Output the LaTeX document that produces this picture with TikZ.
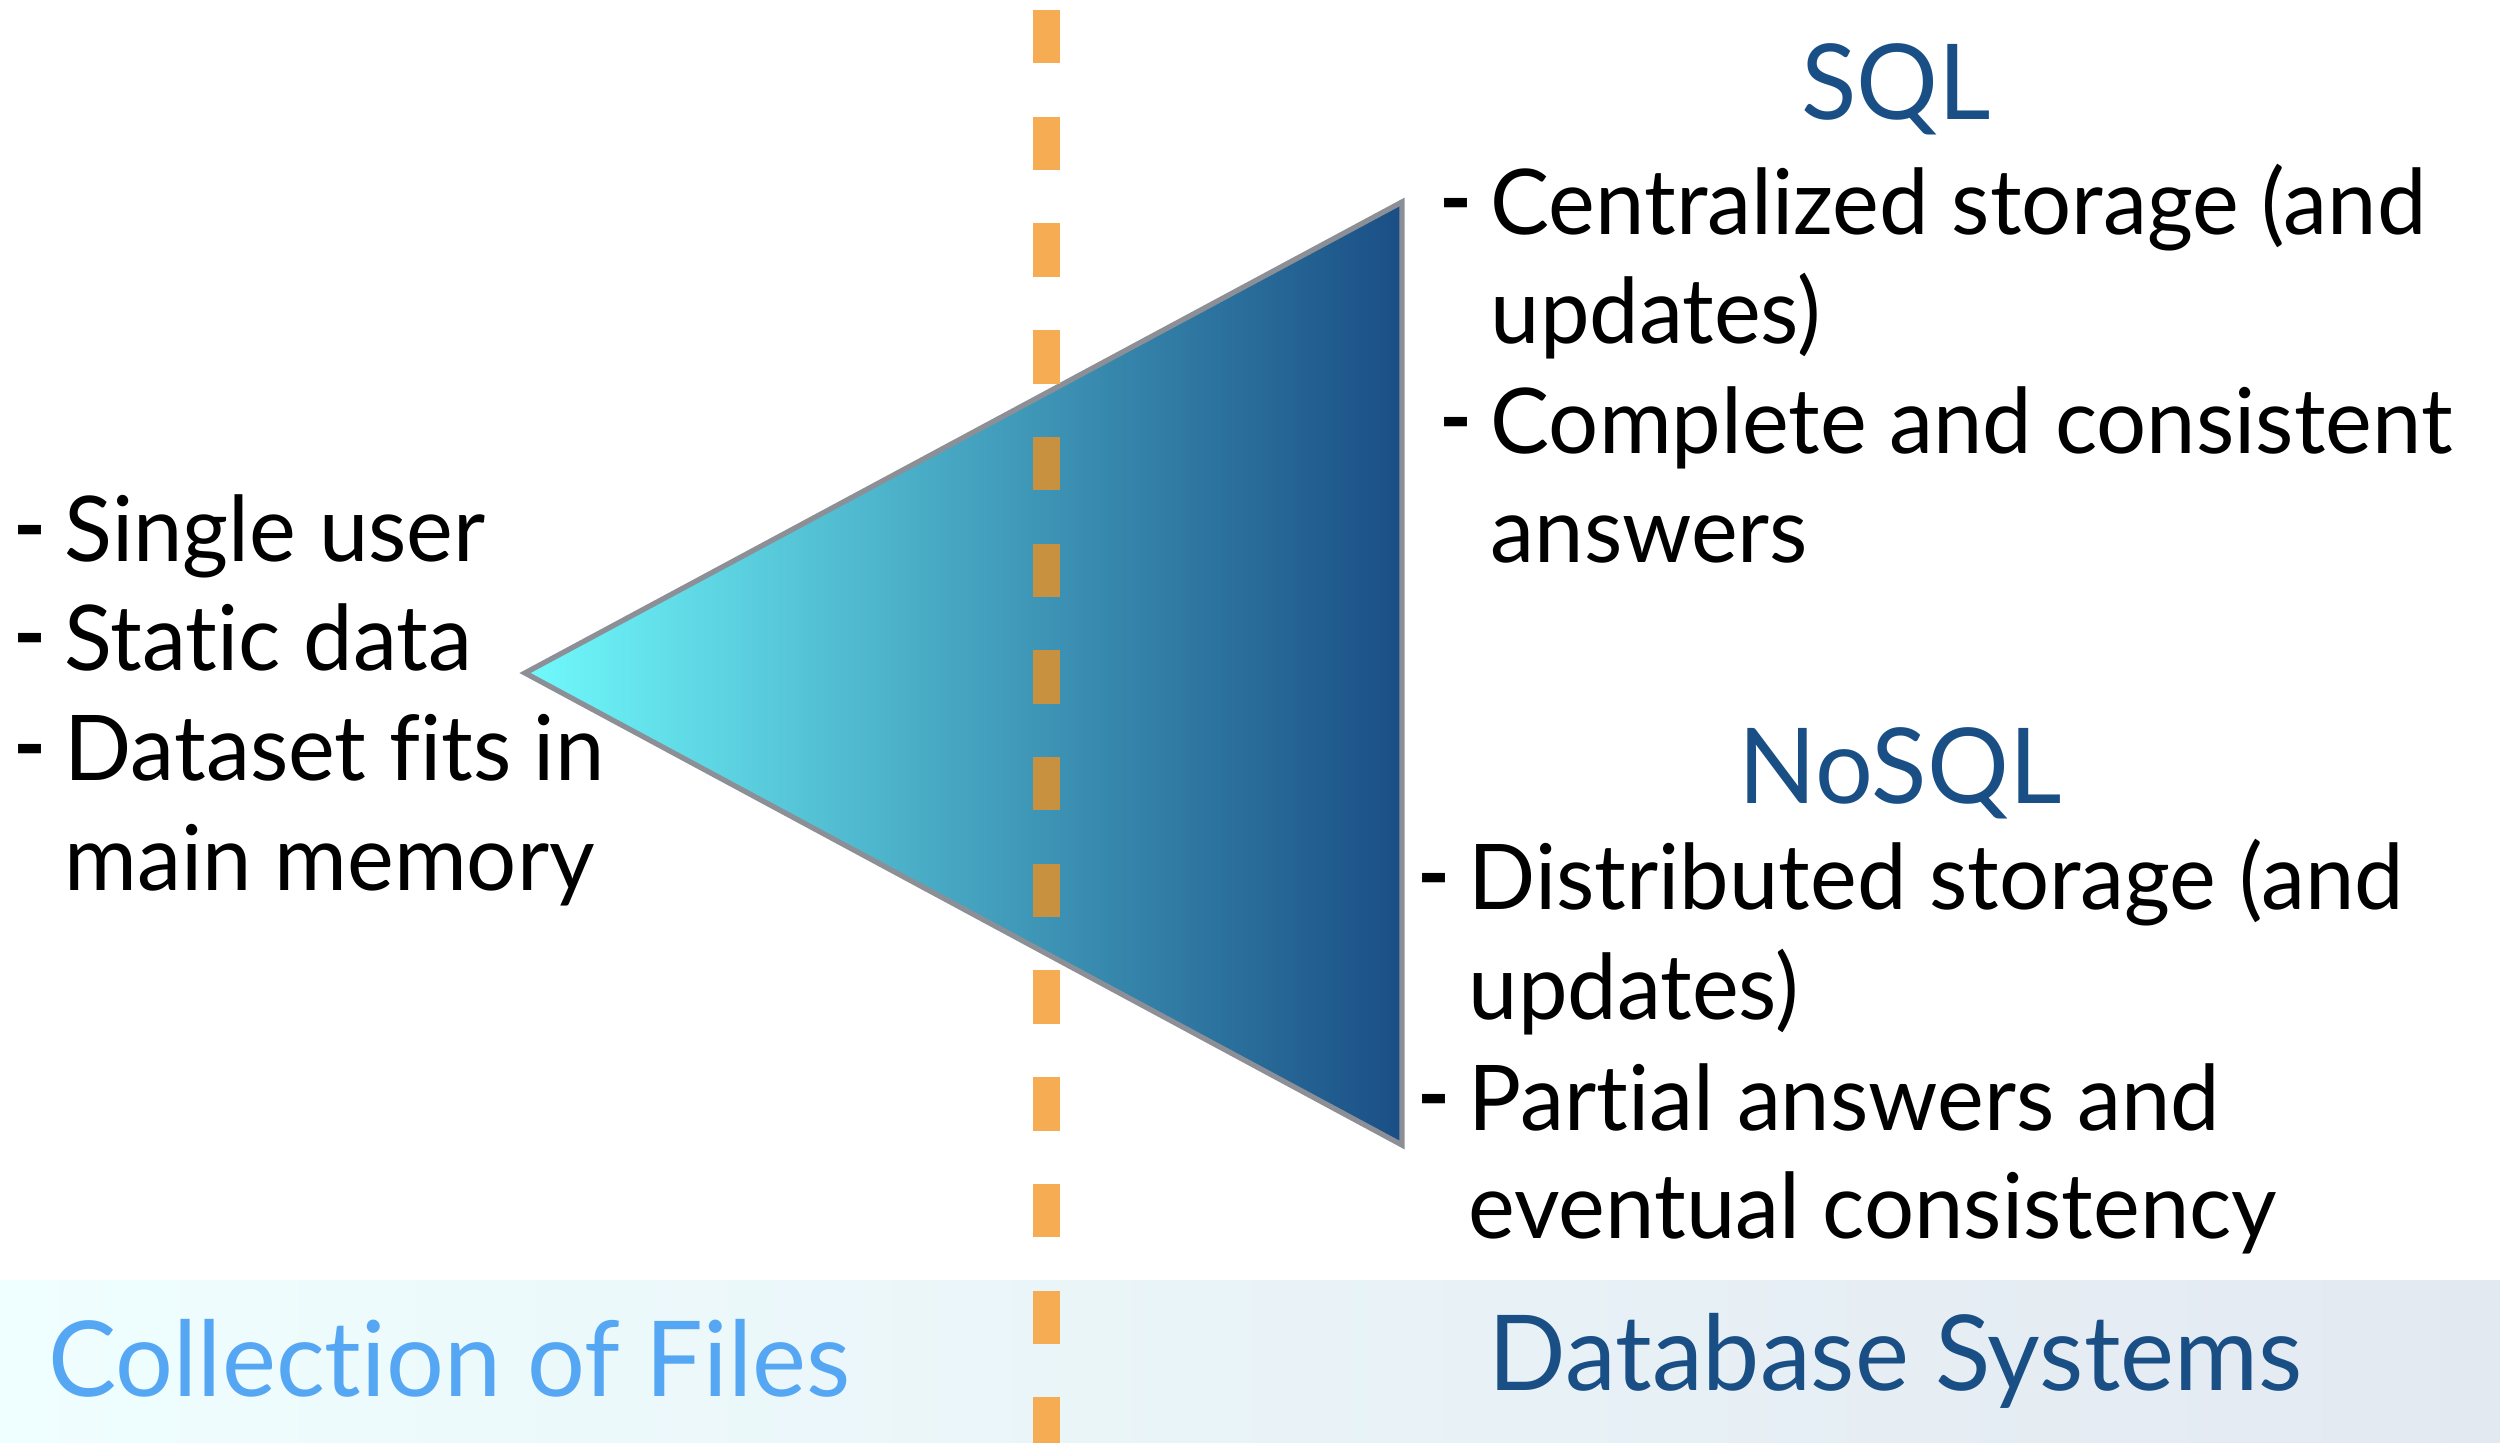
\documentclass[tikz,border=0pt]{standalone}
\usepackage{fontspec}
\setmainfont{Lato}[Ligatures=NoCommon, FakeStretch=0.975]
\definecolor{titleblue}{HTML}{1A4F86}
\definecolor{fileblue}{HTML}{55A7F4}
\definecolor{dashorange}{HTML}{F5AC52}
\definecolor{dashshade}{HTML}{C8913F}
\definecolor{tipcyan}{HTML}{70FAFC}
\definecolor{basedeep}{HTML}{1A4E85}
\definecolor{edgegray}{HTML}{8C9096}
\definecolor{bandleft}{HTML}{EFFEFE}
\definecolor{bandright}{HTML}{E3E9F1}
\newcommand{\bodyfont}{\fontsize{25.8}{31}\selectfont}
\newcommand{\headfont}{\fontsize{29.8}{36}\selectfont}
\begin{document}
\begin{tikzpicture}[x=0.01cm,y=-0.01cm,
  body/.style={anchor=base west, inner sep=0pt, font=\bodyfont},
  bullet/.style={anchor=base east, inner sep=0pt, font=\bodyfont\bfseries},
  heading/.style={anchor=base, inner sep=0pt, text=titleblue, font=\headfont},
  caption/.style={anchor=base west, inner sep=0pt, font=\headfont},
  divider/.style={line width=0.27cm, dash pattern=on 0.5333cm off 0.5333cm}
]
\useasboundingbox (0,0) rectangle (2500,1443);

% bottom band
\fill[left color=bandleft, right color=bandright] (0,1280) rectangle (2500,1443);

% the widening triangle
\coordinate (apex) at (525,673);
\coordinate (ttop) at (1402,202);
\coordinate (tbot) at (1402,1145);
\shade[left color=tipcyan, right color=basedeep] (apex) -- (ttop) -- (tbot) -- cycle;
\draw[edgegray, line width=1.5pt, line join=miter] (apex) -- (ttop) -- (tbot) -- cycle;

% dashed divider, darker where it crosses the triangle
\coordinate (dtop) at (1046.5,10);
\coordinate (dbot) at (1046.5,1443);
\draw[divider, dashorange] (dtop) -- (dbot);
\begin{scope}
  \clip (apex) -- (ttop) -- (tbot) -- cycle;
  \draw[divider, dashshade] (dtop) -- (dbot);
\end{scope}

% left list
\node[bullet] (lb1) at (47,558) {-};
\node[body]   (lt1) at (64,562) {Single user};
\node[bullet] (lb2) at (47,666) {-};
\node[body]   (lt2) at (64,670) {Static data};
\node[bullet] (lb3) at (47,776) {-};
\node[body]   (lt3) at (64,780) {Dataset fits in};
\node[body]   (lt4) at (64,890) {main memory};

% SQL
\node[heading] (sql) at (1896,120) {SQL};
\node[bullet] (sb1) at (1473,231) {-};
\node[body]   (st1) at (1490,235) {Centralized storage (and};
\node[body]   (st2) at (1490,344) {updates)};
\node[bullet] (sb2) at (1473,450) {-};
\node[body]   (st3) at (1490,454) {Complete and consistent};
\node[body]   (st4) at (1490,563) {answers};

% NoSQL
\node[heading] (nosql) at (1900,804) {NoSQL};
\node[bullet] (nb1) at (1451,905) {-};
\node[body]   (nt1) at (1468,909) {Distributed storage (and};
\node[body]   (nt2) at (1468,1019) {updates)};
\node[bullet] (nb2) at (1451,1126) {-};
\node[body]   (nt3) at (1468,1130) {Partial answers and};
\node[body]   (nt4) at (1468,1238) {eventual consistency};

% band captions
\node[caption, text=fileblue]  (files) at (48,1396) {Collection of Files};
\node[caption, text=titleblue] (dbs)   at (1488,1390) {Database Systems};
\end{tikzpicture}
\end{document}
